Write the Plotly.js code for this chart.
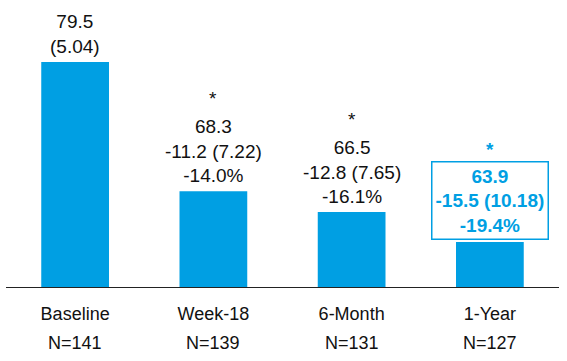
<!DOCTYPE html>
<html>
<head>
<meta charset="utf-8">
<script src="https://cdn.plot.ly/plotly-3.0.1.min.js"></script>
<style>html,body{margin:0;padding:0;background:#fff}#chart{width:567px;height:361px}</style>
</head>
<body>
<div id="chart"></div>
<script>
const categories = ['Baseline', 'Week-18', '6-Month', '1-Year'];
const nCounts = ['N=141', 'N=139', 'N=131', 'N=127'];
const means = [79.5, 68.3, 66.5, 63.9];
const sds = [5.04, 7.22, 7.65, 10.18];
const changes = [null, -11.2, -12.8, -15.5];
const pctChanges = [null, -14.0, -16.1, -19.4];
const significant = [false, true, true, true];
const highlighted = [false, false, false, true];

const BLUE = '#009FE3';
const DARK = '#111111';
const FONT = 'Liberation Sans, Arial, sans-serif';

function labelFor(i) {
  if (changes[i] === null) {
    return means[i].toFixed(1) + '<br>(' + sds[i].toFixed(2) + ')';
  }
  return means[i].toFixed(1) + '<br>' + changes[i].toFixed(1) + ' (' + sds[i].toFixed(2) + ')<br>' +
    pctChanges[i].toFixed(1) + '%';
}

const annotations = [];
categories.forEach((c, i) => {
  const hl = highlighted[i];
  annotations.push({
    x: c, y: means[i], xref: 'x', yref: 'y',
    text: hl ? '<b>' + labelFor(i).split('<br>').join('</b><br><b>') + '</b>' : labelFor(i),
    showarrow: false, yanchor: 'bottom', xanchor: 'center',
    yshift: hl ? 2 : 4,
    font: {family: FONT, size: 19, color: hl ? BLUE : DARK},
    bordercolor: hl ? BLUE : 'rgba(0,0,0,0)',
    borderwidth: hl ? 1.5 : 0,
    borderpad: hl ? 3 : 1
  });
  if (significant[i]) {
    annotations.push({
      x: c, y: means[i], xref: 'x', yref: 'y',
      text: hl ? '<b>*</b>' : '*',
      showarrow: false, yanchor: 'bottom', xanchor: 'center',
      yshift: 80,
      font: {family: FONT, size: 19, color: hl ? BLUE : DARK}
    });
  }
  annotations.push({
    x: c, y: 0, xref: 'x', yref: 'paper',
    text: nCounts[i], showarrow: false, yanchor: 'middle', xanchor: 'center',
    yshift: -56,
    font: {family: FONT, size: 18, color: DARK}
  });
});

const trace = {
  type: 'bar',
  x: categories,
  y: means,
  marker: {color: BLUE, line: {width: 0}},
  hoverinfo: 'none',
  cliponaxis: true
};

const layout = {
  width: 567, height: 361,
  margin: {l: 6, r: 8, t: 10, b: 74, pad: 0},
  paper_bgcolor: '#fff', plot_bgcolor: '#fff',
  showlegend: false,
  bargap: 0.51,
  xaxis: {
    type: 'category',
    range: [-0.5, 3.5],
    showline: true, linecolor: '#222', linewidth: 1.3,
    showgrid: false, zeroline: false, ticks: '',
    tickfont: {family: FONT, size: 18, color: DARK},
    ticklabelstandoff: 10
  },
  yaxis: {
    range: [60, 84], visible: false, showgrid: false, zeroline: false
  },
  annotations: annotations
};

Plotly.newPlot('chart', [trace], layout, {staticPlot: true, displayModeBar: false});
</script>
</body>
</html>
